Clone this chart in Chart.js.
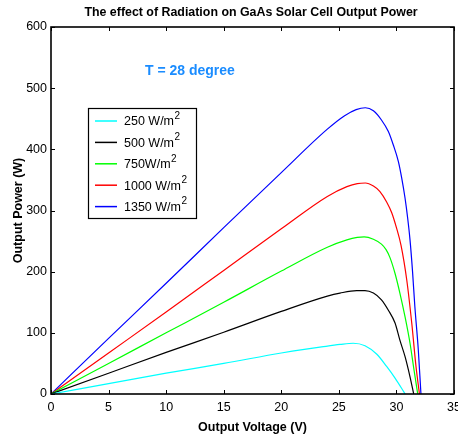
<!DOCTYPE html>
<html>
<head>
<meta charset="utf-8">
<script src="https://cdn.jsdelivr.net/npm/chart.js@4/dist/chart.umd.min.js"></script>
<style>
  html, body { margin: 0; padding: 0; background: #fff; }
  #wrap { width: 458px; height: 437px; position: relative; }
</style>
</head>
<body>
<div id="wrap"><canvas id="pv"></canvas></div>
<script>
// ---- data: output power (W) against output voltage (V), T = 28 degree ----
const xTicks = [0, 5, 10, 15, 20, 25, 30, 35];
const yTicks = [0, 100, 200, 300, 400, 500, 600];

const labels = ['250 W/m²', '500 W/m²', '750W/m²', '1000 W/m²', '1350 W/m²'];

const v250  = [0, 5, 10, 15, 20, 22, 23.5, 25.1, 26.25, 27.27, 28.3, 29.15, 29.88, 30.46, 30.75];
const p250  = [0, 17, 34, 50, 67, 73, 77, 81, 83, 79, 65, 45, 26, 9, 0];

const v500  = [0, 5, 10, 15, 20, 24, 25.1, 26.55, 27.27, 28.0, 28.7, 29.3, 29.88, 30.3, 30.75, 31.18, 31.5];
const p500  = [0, 34, 68, 101, 135, 160, 165, 169, 169, 165, 154, 137, 116, 88, 61, 28, 0];

const v750  = [0, 5, 10, 15, 20, 24, 25.7, 26.6, 27.2, 28.0, 28.7, 29.1, 29.44, 29.88, 30.3, 30.75, 31.18, 31.53, 31.85];
const p750  = [0, 50, 100, 150, 201, 240, 252, 256, 257, 253, 245, 236, 223, 197, 165, 126, 83, 39, 0];

const v1000 = [0, 5, 10, 15, 20, 24, 25.7, 26.6, 27.3, 28.0, 28.57, 29.15, 29.6, 30.0, 30.4, 30.9, 31.33, 31.7, 32.0];
const p1000 = [0, 67, 134, 202, 270, 323, 339, 344, 345, 340, 331, 314, 296, 272, 243, 186, 116, 45, 0];

const v1350 = [0, 5, 10, 15, 20, 24, 25.5, 26.5, 27.3, 28.0, 28.7, 29.3, 29.73, 30.17, 30.46, 30.75, 30.98, 31.18, 31.4, 31.6, 31.9, 32.13];
const p1350 = [0, 91, 181, 272, 362, 433, 455, 465, 468, 463, 448, 429, 407, 380, 353, 320, 287, 252, 200, 143, 72, 0];

const pts = (vs, ps) => vs.map((v, i) => ({ x: v, y: ps[i] }));

const FONT = "Arial, 'Liberation Sans', Helvetica, sans-serif";

function series(label, vs, ps, color) {
  return {
    label, data: pts(vs, ps),
    borderColor: color, backgroundColor: color,
    borderWidth: 1.2, pointRadius: 0, showLine: true,
    cubicInterpolationMode: 'monotone'
  };
}

// box around the plot + inward tick marks on all four sides
const frameTicks = {
  id: 'frameTicks',
  afterDatasetsDraw(chart) {
    const { ctx, chartArea: a, scales: { x, y } } = chart;
    const len = 4;
    ctx.save();
    ctx.strokeStyle = '#000';
    ctx.lineWidth = 1;
    ctx.beginPath();
    x.ticks.forEach(t => {
      const px = Math.round(x.getPixelForValue(t.value)) + 0.5;
      ctx.moveTo(px, a.bottom); ctx.lineTo(px, a.bottom - len);
      ctx.moveTo(px, a.top);    ctx.lineTo(px, a.top + len);
    });
    y.ticks.forEach(t => {
      const py = Math.round(y.getPixelForValue(t.value)) + 0.5;
      ctx.moveTo(a.left, py);  ctx.lineTo(a.left + len, py);
      ctx.moveTo(a.right, py); ctx.lineTo(a.right - len, py);
    });
    ctx.stroke();
    ctx.lineWidth = 1.6;
    ctx.strokeRect(a.left, a.top, a.right - a.left, a.bottom - a.top);
    ctx.restore();
  }
};

// legend box with superscript units, plus the temperature note
const notes = {
  id: 'notes',
  afterDraw(chart) {
    const { ctx } = chart;
    ctx.save();
    const bx = 88.5, by = 108.5, bw = 108, bh = 110;
    ctx.fillStyle = '#fff';
    ctx.fillRect(bx, by, bw, bh);
    ctx.strokeStyle = '#000';
    ctx.lineWidth = 1.2;
    ctx.strokeRect(bx, by, bw, bh);
    chart.data.datasets.forEach((ds, i) => {
      const cy = 121 + i * 21.4;
      ctx.strokeStyle = ds.borderColor;
      ctx.lineWidth = 1.5;
      ctx.beginPath();
      ctx.moveTo(95, cy); ctx.lineTo(117, cy);
      ctx.stroke();
      const base = ds.label.replace('²', '');
      ctx.fillStyle = '#000';
      ctx.font = '12.5px ' + FONT;
      ctx.textBaseline = 'middle';
      ctx.textAlign = 'left';
      ctx.fillText(base, 124, cy + 1);
      const w = ctx.measureText(base).width;
      ctx.font = '10px ' + FONT;
      ctx.fillText('2', 124 + w + 0.5, cy - 5);
    });
    ctx.fillStyle = '#1a8cff';
    ctx.font = 'bold 14px ' + FONT;
    ctx.textBaseline = 'middle';
    ctx.fillText('T = 28 degree', 145, 71);
    ctx.restore();
  }
};

new Chart(document.getElementById('pv'), {
  type: 'scatter',
  data: {
    datasets: [
      series(labels[0], v250,  p250,  '#00ffff'),
      series(labels[1], v500,  p500,  '#000000'),
      series(labels[2], v750,  p750,  '#00ff00'),
      series(labels[3], v1000, p1000, '#ff0000'),
      series(labels[4], v1350, p1350, '#0000ff')
    ]
  },
  options: {
    responsive: true,
    maintainAspectRatio: false,
    animation: false,
    layout: { padding: { top: 27, right: 4, left: 0, bottom: 0 } },
    plugins: {
      legend: { display: false },
      tooltip: { enabled: false },
      title: { display: false }
    },
    scales: {
      x: {
        type: 'linear', min: 0, max: 35,
        afterBuildTicks: s => { s.ticks = xTicks.map(v => ({ value: v })); },
        afterFit: s => { s.height = 43; s.paddingLeft = 0; s.paddingRight = 0; },
        grid: { display: false, drawTicks: false, tickLength: 0 },
        border: { display: false },
        ticks: { color: '#000', padding: 6, font: { family: FONT, size: 12.5 } },
        title: {
          display: true, text: 'Output Voltage (V)', color: '#000',
          font: { family: FONT, size: 12.5, weight: 'bold' },
          padding: { top: 0, bottom: 2 }
        }
      },
      y: {
        type: 'linear', min: 0, max: 600,
        afterBuildTicks: s => { s.ticks = yTicks.map(v => ({ value: v })); },
        afterFit: s => { s.width = 51; s.paddingTop = 0; s.paddingBottom = 0; },
        grid: { display: false, drawTicks: false, tickLength: 0 },
        border: { display: false },
        ticks: { color: '#000', padding: 4, font: { family: FONT, size: 12.5 } },
        title: {
          display: true, text: 'Output Power (W)', color: '#000',
          font: { family: FONT, size: 12.5, weight: 'bold' },
          padding: { top: 11, bottom: 0 }
        }
      }
    }
  },
  plugins: [frameTicks, notes, {
    id: 'heading',
    afterDraw(chart) {
      const { ctx } = chart;
      ctx.save();
      ctx.fillStyle = '#000';
      ctx.font = 'bold 12.4px ' + FONT;
      ctx.textAlign = 'center';
      ctx.textBaseline = 'middle';
      ctx.fillText('The effect of Radiation on GaAs Solar Cell Output Power', 251, 13);
      ctx.restore();
    }
  }]
});
</script>
</body>
</html>
